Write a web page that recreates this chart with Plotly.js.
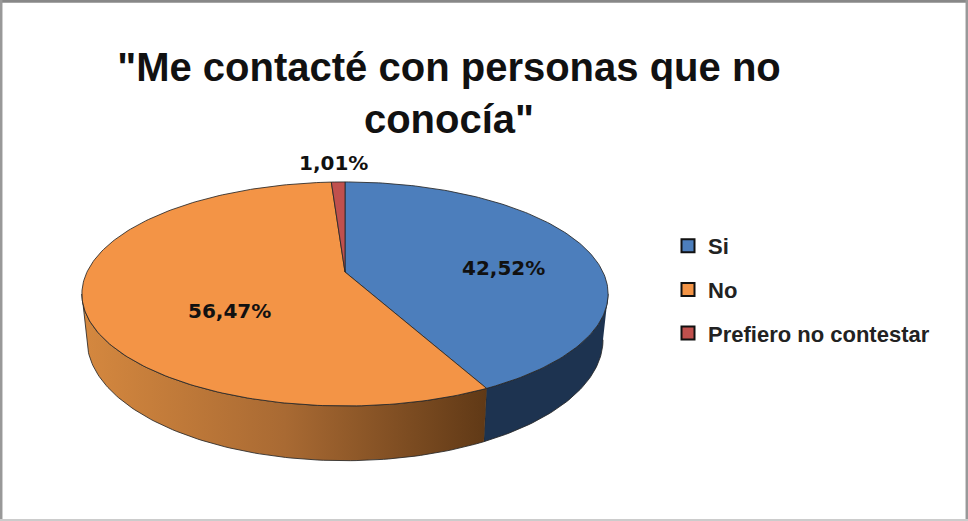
<!DOCTYPE html>
<html>
<head>
<meta charset="utf-8">
<script src="https://cdn.plot.ly/plotly-3.0.1.min.js"></script>
<style>html,body{margin:0;padding:0;background:#fff;overflow:hidden}#chart{width:968px;height:521px}</style>
</head>
<body>
<div id="chart"></div>
<script>
const categories = ["Si", "No", "Prefiero no contestar"];
const shares = [42.52, 56.47, 1.01];
const topColors = ["#4C7EBC", "#F39446", "#C0504D"];
const titleText = '"Me contacté con personas que no<br>conocía"';

// 3D-look projection of the pie disc on pixel-sized axes
const CX = 345, K = -0.196, A = 54.4, C = 258;
const TOP_Y = 272, BOTTOM_Y = 316, BOTTOM_C = 253;
function project(deg, b, c) {
  const t = deg * Math.PI / 180, u = Math.sin(t), v = -Math.cos(t), w = 1 + K * v;
  return [CX + c * u / w, (b + A * v) / w];
}
function arc(from, to, b, c) {
  const pts = [], n = Math.max(2, Math.ceil(Math.abs(to - from)));
  for (let i = 0; i <= n; i++) pts.push(project(from + (to - from) * i / n, b, c));
  return pts;
}
const edge = {color: "rgba(40,40,40,0.85)", width: 1};
const traces = [];
function poly(pts, extra) {
  traces.push(Object.assign({
    type: "scatter", mode: "lines", x: pts.map(p => p[0]), y: pts.map(p => p[1]),
    fill: "toself", line: edge, hoverinfo: "skip", showlegend: false
  }, extra));
}
const total = shares.reduce((a, b) => a + b, 0);
const sweep = shares.map(s => s / total * 360);
const visibleFrom = Math.acos(K) * 180 / Math.PI;   // right-hand silhouette
const visibleTo = 360 - visibleFrom;               // left-hand silhouette
const end0 = sweep[0];

// walls
function wall(from, to, extra) {
  poly(arc(from, to, TOP_Y, C).concat(arc(to, from, BOTTOM_Y, BOTTOM_C)), extra);
}
wall(visibleFrom, end0, {fillcolor: "#1D3350"});
wall(end0, visibleTo, {fillgradient: {type: "horizontal",
  colorscale: [[0, "#D5883F"], [0.5, "#A96A33"], [1, "#603916"]]}});

// top faces
let start = 0;
shares.forEach((s, i) => {
  const pts = [[CX, TOP_Y]].concat(arc(start, start + sweep[i], TOP_Y, C), [[CX, TOP_Y]]);
  poly(pts, {fillcolor: topColors[i], name: categories[i]});
  start += sweep[i];
});

// legend entries
categories.forEach((c, i) => traces.push({
  type: "scatter", mode: "markers", x: [-100], y: [-100], name: c, legendgroup: c,
  marker: {symbol: "square", size: 13, color: topColors[i], line: {color: "#111", width: 2}},
  hoverinfo: "skip"
}));

const labelPos = [[503, 268], [229, 311], [333, 163]];
const annotations = shares.map((s, i) => ({
  x: labelPos[i][0], y: labelPos[i][1], xref: "x", yref: "y", showarrow: false,
  text: "<b>" + s.toFixed(2).replace(".", ",") + "%</b>",
  font: {family: "DejaVu Sans", size: 20, color: "#111"}
}));

const frame = (x0, y0, x1, y1, color, w) => ({type: "line", xref: "paper", yref: "paper",
  x0, y0, x1, y1, line: {color, width: w}});

Plotly.newPlot("chart", traces, {
  width: 968, height: 521, margin: {l: 0, r: 0, t: 0, b: 0},
  paper_bgcolor: "#fff", plot_bgcolor: "#fff", showlegend: true,
  xaxis: {range: [0, 968], visible: false, fixedrange: true},
  yaxis: {range: [521, 0], visible: false, fixedrange: true},
  title: {text: "<b>" + titleText + "</b>", x: 449 / 968, xanchor: "center",
    y: 1 - 81 / 521, yanchor: "top", font: {family: "Liberation Sans", size: 40, color: "#111"}},
  legend: {x: 668 / 968, xanchor: "left", y: 1 - 225 / 521, yanchor: "top", tracegroupgap: 12,
    bgcolor: "rgba(0,0,0,0)", font: {family: "Liberation Sans", size: 22, color: "#222", weight: "bold"}},
  annotations,
  shapes: [
    frame(0, 0.9975, 1, 0.9975, "#888", 3),
    frame(0.001, 0, 0.001, 1, "#999", 3),
    frame(0.999, 0, 0.999, 1, "#999", 3),
    frame(0, 0.002, 1, 0.002, "#ccc", 2)
  ]
}, {displayModeBar: false, staticPlot: true});
</script>
</body>
</html>
